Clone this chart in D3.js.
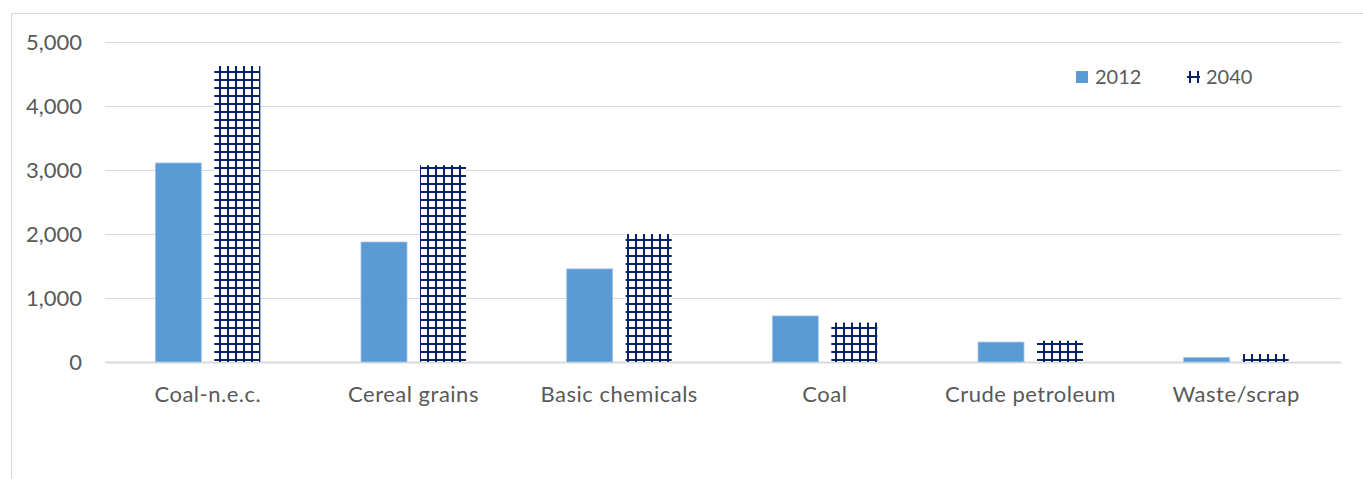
<!DOCTYPE html>
<html>
<head>
<meta charset="utf-8">
<script src="https://cdn.jsdelivr.net/npm/d3@7"></script>
<style>
  html, body { margin: 0; padding: 0; background: #fff; }
  svg { display: block; }
  text { font-family: Lato, "Open Sans", sans-serif; fill: #595959; }
</style>
</head>
<body>
<svg id="chart" width="1363" height="479"></svg>
<script>
// Freight tonnage by commodity (thousands), 2012 vs 2040
const categories = ["Coal-n.e.c.", "Cereal grains", "Basic chemicals", "Coal", "Crude petroleum", "Waste/scrap"];
const values2012 = [3110, 1875, 1455, 720, 312, 73];
const values2040 = [4625, 3075, 2000, 615, 333, 125];
const seriesNames = ["2012", "2040"];
const yTicks = [0, 1000, 2000, 3000, 4000, 5000];

const W = 1363, H = 479;
const plot = { left: 105, right: 1339, top: 42, bottom: 362 };
const svg = d3.select("#chart");

// Patterned fill for the 2040 series, anchored to the page grid
const defs = svg.append("defs");
function gridPattern(id, ox, oy) {
  const p = defs.append("pattern")
    .attr("id", id)
    .attr("patternUnits", "userSpaceOnUse")
    .attr("width", 8).attr("height", 8)
    .attr("x", ox).attr("y", oy);
  p.append("rect").attr("width", 8).attr("height", 8).attr("fill", "#fff");
  p.append("rect").attr("x", 3).attr("y", 0).attr("width", 2).attr("height", 8).attr("fill", "#0a2266");
  p.append("rect").attr("x", 0).attr("y", 7).attr("width", 8).attr("height", 2).attr("fill", "#0a2266");
  p.append("rect").attr("x", 0).attr("y", -1).attr("width", 8).attr("height", 2).attr("fill", "#0a2266");
}
gridPattern("grid2040", 0, 0);
gridPattern("gridLegend", 1186, 69);

// Chart frame
svg.append("rect")
  .attr("x", 11.5).attr("y", 13.5)
  .attr("width", W + 20).attr("height", H + 20)
  .attr("fill", "none").attr("stroke", "#d9d9d9").attr("stroke-width", 1.2);

const x0 = d3.scaleBand().domain(categories).range([plot.left, plot.right]).paddingInner(0).paddingOuter(0);
const x1 = d3.scaleBand().domain(seriesNames).range([0, x0.bandwidth()]).paddingInner(0.22).paddingOuter(0.853);
const y = d3.scaleLinear().domain([0, 5000]).range([plot.bottom, plot.top]);

// Gridlines and value labels
const yAxis = d3.axisLeft(y).tickValues(yTicks).tickFormat(d3.format(",")).tickSize(-(plot.right - plot.left + 2)).tickPadding(23);
const gy = svg.append("g").attr("transform", `translate(${plot.left},0)`).call(yAxis);
gy.select(".domain").remove();
gy.selectAll(".tick line").attr("stroke", "#d9d9d9").attr("stroke-width", d => d === 0 ? 2 : 1.2);
gy.selectAll(".tick text").attr("font-size", 22).attr("fill", "#595959").style("font-family", "Lato, sans-serif");

// Bars
const rows = categories.map((c, i) => ({ cat: c, vals: [values2012[i], values2040[i]] }));
const groups = svg.selectAll("g.cat").data(rows).join("g")
  .attr("class", "cat");

groups.selectAll("rect").data(d => d.vals.map((v, j) => ({ cat: d.cat, s: seriesNames[j], v })))
  .join("rect")
  .attr("x", d => x0(d.cat) + x1(d.s))
  .attr("y", d => y(d.v))
  .attr("width", x1.bandwidth())
  .attr("height", d => y(0) - y(d.v))
  .attr("fill", d => d.s === "2012" ? "#5b9bd5" : "url(#grid2040)")
  .attr("stroke", d => d.s === "2012" ? "#a7c7ea" : "none")
  .attr("stroke-width", 0.8);

// Category labels
const xAxis = d3.axisBottom(x0).tickSize(0).tickPadding(24);
const gx = svg.append("g").attr("transform", `translate(0,${plot.bottom})`).call(xAxis);
gx.select(".domain").remove();
gx.selectAll(".tick text").attr("font-size", 22).attr("fill", "#595959")
  .style("font-family", "Lato, sans-serif").style("letter-spacing", "0.5px");

// Legend
const legend = svg.append("g");
const legendItems = [
  { name: seriesNames[0], x: 1076, w: 12, fill: "#5b9bd5" },
  { name: seriesNames[1], x: 1187, w: 13, fill: "url(#gridLegend)" }
];
legendItems.forEach(it => {
  legend.append("rect").attr("x", it.x).attr("y", 71).attr("width", it.w).attr("height", 12).attr("fill", it.fill);
  legend.append("text").attr("x", it.x + 19).attr("y", 83.5).attr("font-size", 20).text(it.name);
});
</script>
</body>
</html>
